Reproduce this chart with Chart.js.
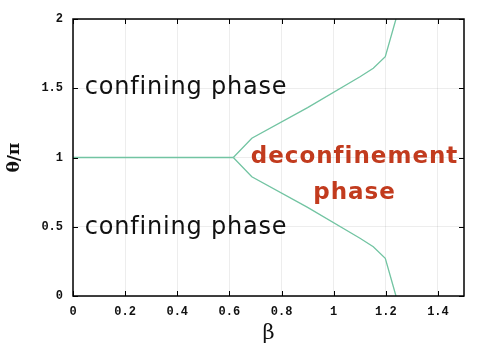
<!DOCTYPE html>
<html>
<head>
<meta charset="utf-8">
<script src="https://cdn.jsdelivr.net/npm/chart.js@4"></script>
<style>
  html, body { margin: 0; padding: 0; background: #fff; }
  #wrap { width: 491px; height: 344px; }
</style>
</head>
<body>
<div id="wrap"><canvas id="phaseChart" width="491" height="344"></canvas></div>
<script>
// phase boundary (beta, theta/pi)
const flatBeta = [0, 0.615];
const flatTheta = [1, 1];
const upperBeta = [0.615, 0.686, 0.9, 1.101, 1.152, 1.198, 1.229, 1.239];
const upperTheta = [1, 1.139, 1.36, 1.583, 1.644, 1.728, 1.933, 2];
const lowerBeta = [0.615, 0.686, 0.9, 1.101, 1.152, 1.198, 1.229, 1.239];
const lowerTheta = [1, 0.861, 0.64, 0.417, 0.356, 0.272, 0.067, 0];
const xTicks = [0, 0.2, 0.4, 0.6, 0.8, 1, 1.2, 1.4];
const yTicks = [0, 0.5, 1, 1.5, 2];

const lineColor = '#72c4a2';

function pts(xs, ys) {
  return xs.map(function (x, i) { return { x: x, y: ys[i] }; });
}

// frame + inward tick marks + region labels
const decorPlugin = {
  id: 'decor',
  afterDraw: function (chart) {
    const ctx = chart.ctx;
    const a = chart.chartArea;
    const xs = chart.scales.x;
    const ys = chart.scales.y;
    ctx.save();
    ctx.strokeStyle = '#000';
    ctx.lineWidth = 1;
    xTicks.forEach(function (v) {
      const px = Math.round(xs.getPixelForValue(v)) + 0.5;
      ctx.beginPath();
      ctx.moveTo(px, a.bottom); ctx.lineTo(px, a.bottom - 5);
      ctx.moveTo(px, a.top); ctx.lineTo(px, a.top + 5);
      ctx.stroke();
    });
    yTicks.forEach(function (v) {
      const py = Math.round(ys.getPixelForValue(v)) + 0.5;
      ctx.beginPath();
      ctx.moveTo(a.left, py); ctx.lineTo(a.left + 5, py);
      ctx.moveTo(a.right, py); ctx.lineTo(a.right - 5, py);
      ctx.stroke();
    });
    ctx.lineWidth = 1.5;
    ctx.strokeRect(a.left, a.top, a.right - a.left, a.bottom - a.top);

    ctx.textBaseline = 'middle';
    ctx.textAlign = 'left';
    ctx.fillStyle = '#111';
    ctx.font = '24px "DejaVu Sans", sans-serif';
    ctx.letterSpacing = '0.8px';
    ctx.fillText('confining phase', xs.getPixelForValue(0.045), ys.getPixelForValue(1.5));
    ctx.fillText('confining phase', xs.getPixelForValue(0.045), ys.getPixelForValue(0.49));

    ctx.fillStyle = '#c23b1e';
    ctx.font = 'bold 23px "DejaVu Sans", sans-serif';
    ctx.letterSpacing = '1px';
    ctx.textAlign = 'center';
    ctx.fillText('deconfinement', xs.getPixelForValue(1.08), ys.getPixelForValue(1));
    ctx.fillText('phase', xs.getPixelForValue(1.08), ys.getPixelForValue(0.74));
    ctx.restore();
  }
};

function createChart() {
  const el = document.getElementById('phaseChart');
  return new Chart(el.getContext('2d'), {
    type: 'scatter',
    data: {
      datasets: [
        { data: pts(flatBeta, flatTheta) },
        { data: pts(upperBeta, upperTheta) },
        { data: pts(lowerBeta, lowerTheta) }
      ].map(function (d) {
        d.showLine = true;
        d.borderColor = lineColor;
        d.borderWidth = 1.3;
        d.pointRadius = 0;
        d.tension = 0;
        return d;
      })
    },
    options: {
      responsive: false,
      animation: false,
      layout: { padding: { top: 19, right: 27, left: 0, bottom: 0 } },
      plugins: { legend: { display: false }, tooltip: { enabled: false } },
      scales: {
        x: {
          type: 'linear', min: 0, max: 1.5,
          afterBuildTicks: function (s) { s.ticks = xTicks.map(function (v) { return { value: v }; }); },
          afterFit: function (s) { s.height = 48; },
          grid: { color: 'rgba(0,0,0,0.07)', drawTicks: false },
          border: { display: false },
          ticks: {
            padding: 9, color: '#111',
            font: { family: '"Liberation Mono", "DejaVu Sans Mono", monospace', size: 12, weight: 'bold' },
            callback: function (v) { return String(v); }
          },
          title: {
            display: true, text: 'β', color: '#111', padding: { top: 0, bottom: 0 },
            font: { family: '"DejaVu Serif", serif', size: 21, lineHeight: 1 }
          }
        },
        y: {
          type: 'linear', min: 0, max: 2,
          afterBuildTicks: function (s) { s.ticks = yTicks.map(function (v) { return { value: v }; }); },
          afterFit: function (s) { s.width = 73; },
          grid: { color: 'rgba(0,0,0,0.07)', drawTicks: false },
          border: { display: false },
          ticks: {
            padding: 10, color: '#111',
            font: { family: '"Liberation Mono", "DejaVu Sans Mono", monospace', size: 12, weight: 'bold' },
            callback: function (v) { return String(v); }
          },
          title: {
            display: true, text: 'θ/π', color: '#111', padding: { bottom: 4 },
            font: { family: '"DejaVu Serif", "Liberation Serif", serif', size: 17, weight: 'bold' }
          }
        }
      }
    },
    plugins: [decorPlugin]
  });
}

createChart();
</script>
</body>
</html>
